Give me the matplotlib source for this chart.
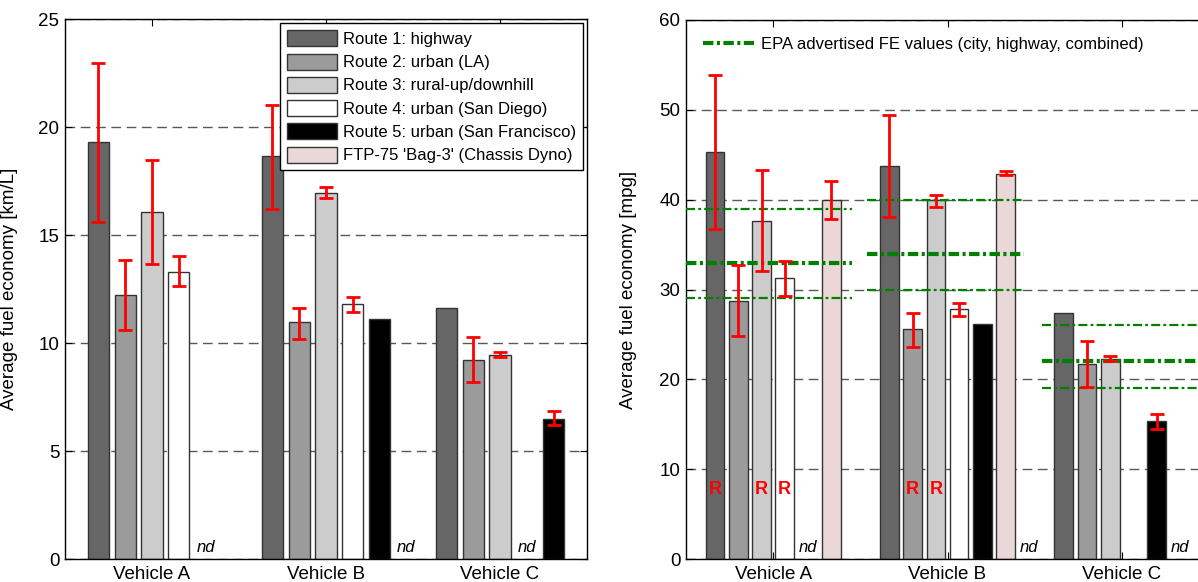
import numpy as np
import matplotlib.pyplot as plt
from matplotlib.patches import Patch
from matplotlib.lines import Line2D

plt.rcParams['font.family'] = ['Liberation Sans', 'DejaVu Sans']
plt.rcParams['lines.scale_dashes'] = False

# --- Data ---
vehicles = ["Vehicle A", "Vehicle B", "Vehicle C"]
series_labels = ["Route 1: highway", "Route 2: urban (LA)", "Route 3: rural-up/downhill",
                 "Route 4: urban (San Diego)", "Route 5: urban (San Francisco)",
                 "FTP-75 'Bag-3' (Chassis Dyno)"]
series_colors = ["#666666", "#9b9b9b", "#cccccc", "#ffffff", "#000000", "#ead8d8"]
nan = np.nan

# left panel, km/L (routes 1-5)
kml_values = [[19.3, 18.65, 11.6], [12.2, 10.95, 9.2], [16.05, 16.95, 9.45],
              [13.3, 11.8, nan], [nan, 11.1, 6.5]]
kml_low = [[15.6, 16.2, nan], [10.6, 10.2, 8.2], [13.65, 16.7, 9.33],
           [12.65, 11.45, nan], [nan, nan, 6.2]]
kml_high = [[22.95, 21.0, nan], [13.85, 11.6, 10.3], [18.45, 17.2, 9.57],
            [14.05, 12.15, nan], [nan, nan, 6.87]]

# right panel, mpg (routes 1-5 + FTP-75)
mpg_values = [[45.3, 43.75, 27.35], [28.7, 25.6, 21.7], [37.65, 39.95, 22.3],
              [31.3, 27.8, nan], [nan, 26.2, 15.35], [39.95, 42.9, nan]]
mpg_low = [[36.7, 38.1, nan], [24.8, 23.6, 19.2], [32.05, 39.2, 22.0],
           [29.3, 27.0, nan], [nan, nan, 14.5], [37.85, 42.7, nan]]
mpg_high = [[53.9, 49.4, nan], [32.7, 27.4, 24.3], [43.3, 40.5, 22.6],
            [33.2, 28.5, nan], [nan, nan, 16.1], [42.05, 43.15, nan]]

# EPA advertised values (mpg)
epa_city = [29, 30, 19]
epa_highway = [39, 40, 26]
epa_combined = [33, 34, 22]
epa_x0 = [0.5, 1.54, 2.54]
epa_x1 = [1.45, 2.44, 3.45]

# 'nd' labels (offset from group centre) and 'R' markers (vehicle, series)
nd_left = [0.31, 0.46, 0.155]
nd_right = [0.2, 0.47, 0.335]
r_marks = [(0, 0), (0, 2), (0, 3), (1, 1), (1, 2)]

x = np.arange(1, len(vehicles) + 1)


def draw_group_bars(ax, values, low, high):
    n = len(values)
    group_w = min(0.8, n / (n + 1.5))
    slot = group_w / n
    for i in range(n):
        v = np.array(values[i], dtype=float)
        xs = x + (i - (n - 1) / 2) * slot
        ok = ~np.isnan(v)
        ax.bar(xs[ok], v[ok], width=0.8 * slot, color=series_colors[i],
               edgecolor="0.2", linewidth=1, zorder=2)
        lo = np.array(low[i], dtype=float)
        hi = np.array(high[i], dtype=float)
        e = ~np.isnan(lo)
        if e.any():
            ax.errorbar(xs[e], v[e], yerr=[v[e] - lo[e], hi[e] - v[e]], fmt="none",
                        ecolor="red", elinewidth=2, capsize=5, capthick=2, zorder=4)
    return slot


def style_axis(ax, ymax, ystep, ylabel):
    ax.set_xlim(0.5, 3.5)
    ax.set_ylim(0, ymax)
    ax.set_xticks(x)
    ax.set_xticklabels(vehicles)
    ax.set_yticks(np.arange(0, ymax + 1, ystep))
    ax.tick_params(direction="in", top=True, right=True, length=5, labelsize=13.5)
    ax.tick_params(axis="x", pad=5)
    ax.tick_params(axis="y", pad=4)
    ax.set_axisbelow(True)
    ax.yaxis.grid(True, linestyle=(0, (7, 4)), color="0.35", linewidth=1)
    ax.set_ylabel(ylabel, fontsize=13.5)
    for s in ax.spines.values():
        s.set_linewidth(1)


fig = plt.figure(figsize=(11.98, 5.82), dpi=100)
ax1 = fig.add_axes([65 / 1198, 23 / 582, 522 / 1198, 540 / 582])
ax2 = fig.add_axes([686 / 1198, 23 / 582, 523 / 1198, 539 / 582])

# --- Left panel (km/L) ---
draw_group_bars(ax1, kml_values, kml_low, kml_high)
style_axis(ax1, 25, 5, "Average fuel economy [km/L]")
ax1.yaxis.set_label_coords(-0.09, 0.5)
for k, off in enumerate(nd_left):
    ax1.text(x[k] + off, 0.55, "nd", style="italic", fontsize=12, ha="center", va="center")

handles = [Patch(facecolor=c, edgecolor="0.2", linewidth=1) for c in series_colors]
leg = ax1.legend(handles, series_labels, loc="upper right", fontsize=12, fancybox=False,
                 edgecolor="black", framealpha=1, handlelength=3.0, handleheight=1.1,
                 labelspacing=0.4, handletextpad=0.36, borderpad=0.42, borderaxespad=0.25)
leg.get_frame().set_linewidth(1)

# --- Right panel (mpg) ---
slot_r = draw_group_bars(ax2, mpg_values, mpg_low, mpg_high)
style_axis(ax2, 60, 10, "Average fuel economy [mpg]")
ax2.yaxis.set_label_coords(-0.094, 0.5)

thin = (0, (6.5, 2.3, 2, 2.3))
thick = (0, (7.5, 2.5, 2.2, 2.5))
for k in range(len(vehicles)):
    ax2.hlines(epa_city[k], epa_x0[k], epa_x1[k], colors="#008000", linewidth=1.6,
               linestyles=[thin], zorder=3)
    ax2.hlines(epa_highway[k], epa_x0[k], epa_x1[k], colors="#008000", linewidth=1.6,
               linestyles=[thin], zorder=3)
    ax2.hlines(epa_combined[k], epa_x0[k], epa_x1[k], colors="#008000", linewidth=3,
               linestyles=[thick], zorder=3)

for k, off in enumerate(nd_right):
    ax2.text(x[k] + off, 1.3, "nd", style="italic", fontsize=12, ha="center", va="center")
for k, i in r_marks:
    ax2.text(x[k] + (i - 2.5) * slot_r, 7.7, "R", color="red", fontweight="bold",
             fontsize=13, ha="center", va="center", zorder=5)

epa_handle = Line2D([], [], color="#008000", linewidth=3, linestyle=thick)
ax2.legend([epa_handle], ["EPA advertised FE values (city, highway, combined)"],
           loc="upper left", frameon=False, fontsize=12, handlelength=3.1,
           handletextpad=0.4, borderaxespad=0.6)

fig.savefig("out.png", dpi=100)
